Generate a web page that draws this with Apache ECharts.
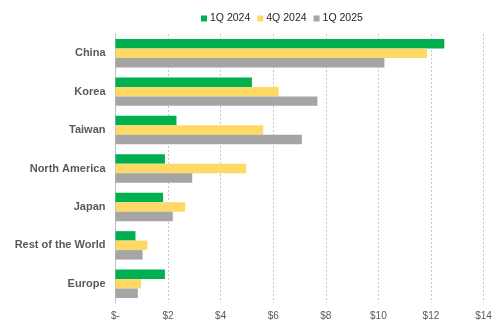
<!DOCTYPE html>
<html><head><meta charset="utf-8">
<script src="https://cdn.jsdelivr.net/npm/echarts@6/dist/echarts.min.js"></script>
<style>html,body{margin:0;padding:0;background:#fff}#c{width:500px;height:329px}</style>
</head><body><div id="c"></div>
<script>
var categories = ["China","Korea","Taiwan","North America","Japan","Rest of the World","Europe"];
var seriesNames = ["1Q 2024","4Q 2024","1Q 2025"];
var q1_2024 = [12.51,5.19,2.32,1.88,1.81,0.76,1.88];
var q4_2024 = [11.86,6.21,5.62,4.97,2.65,1.21,0.97];
var q1_2025 = [10.23,7.68,7.09,2.92,2.18,1.03,0.85];
var colors = ["#00B050","#FFD966","#A5A5A5"];
var values = [q1_2024,q4_2024,q1_2025];
var chart = echarts.init(document.getElementById('c'));
chart.setOption({
  animation:false,
  legend:{top:8,left:196,itemWidth:6,itemHeight:6,itemGap:7,icon:'rect',
    textStyle:{fontFamily:'Liberation Sans, Arial',fontSize:10.5,color:'#262626',padding:[0,0,0,-2]}},
  grid:{left:115.5,right:16.5,top:34,bottom:26,containLabel:false},
  xAxis:{type:'value',min:0,max:14,interval:2,
    axisLine:{show:false},axisTick:{show:false},
    splitLine:{show:true,lineStyle:{color:'#c8c8c8',type:[2,2],width:1}},
    axisLabel:{fontFamily:'Liberation Sans, Arial',fontSize:10,color:'#595959',margin:8,
      formatter:function(v){return v===0?'$-':'$'+v;}}},
  yAxis:{type:'category',data:categories,inverse:true,
    axisLine:{show:true,lineStyle:{color:'#bfbfbf'}},axisTick:{show:false},
    axisLabel:{fontFamily:'Liberation Sans, Arial',fontSize:11,fontWeight:'bold',color:'#595959',margin:10}},
  series:seriesNames.map(function(n,i){return {name:n,type:'bar',data:values[i],
    barGap:'0%',barCategoryGap:'26%',itemStyle:{color:colors[i]}};})
});
</script></body></html>
